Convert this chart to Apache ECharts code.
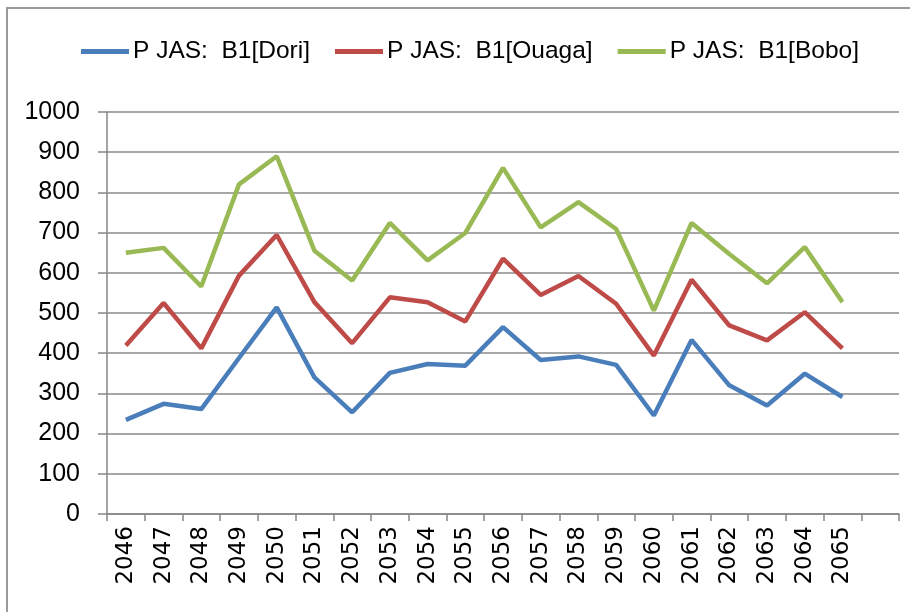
<!DOCTYPE html>
<html>
<head>
<meta charset="utf-8">
<script src="https://cdn.jsdelivr.net/npm/echarts@6/dist/echarts.min.js"></script>
<style>
  html, body { margin: 0; padding: 0; background: #fff; }
  #main { width: 910px; height: 612px; }
</style>
</head>
<body>
<div id="main"></div>
<script>
// annees (la derniere case de l'axe est vide, comme dans Excel)
var years = ['2046', '2047', '2048', '2049', '2050', '2051', '2052', '2053', '2054', '2055',
  '2056', '2057', '2058', '2059', '2060', '2061', '2062', '2063', '2064', '2065', ''];

var dori = [234, 274, 261, 388, 514, 340, 253, 351, 373, 369,
  465, 383, 392, 371, 245, 433, 320, 270, 349, 291];
var ouaga = [419, 525, 412, 593, 694, 527, 425, 539, 527, 479,
  635, 545, 592, 523, 394, 583, 469, 432, 502, 412];
var bobo = [650, 662, 566, 820, 890, 655, 581, 724, 631, 699,
  861, 713, 776, 709, 506, 724, 647, 574, 664, 527];

var seriesNames = ['P JAS:  B1[Dori]', 'P JAS:  B1[Ouaga]', 'P JAS:  B1[Bobo]'];
var colors = ['#4a7ebb', '#be4b48', '#98b954'];

var sans = "'Liberation Sans', Arial, sans-serif";

var chart = echarts.init(document.getElementById('main'));

function makeLine(name, data, color) {
  return {
    name: name,
    type: 'line',
    data: data,
    symbol: 'none',
    smooth: false,
    lineStyle: { color: color, width: 4.5 },
    itemStyle: { color: color },
    emphasis: { disabled: true }
  };
}

chart.setOption({
  backgroundColor: '#fff',
  animation: false,
  graphic: [{
    type: 'rect',
    shape: { x: 7, y: 8, width: 920, height: 620 },
    style: { fill: 'none', stroke: '#9a9a9a', lineWidth: 2 },
    silent: true
  }],
  legend: {
    left: 76,
    top: 34,
    icon: 'rect',
    itemWidth: 48,
    itemHeight: 5,
    itemGap: 25,
    textStyle: { fontFamily: sans, fontSize: 24.5, color: '#000', padding: [0, 0, 0, -1] },
    data: seriesNames
  },
  grid: {
    left: 107,
    right: 11,
    top: 112,
    bottom: 98,
    containLabel: false
  },
  xAxis: {
    type: 'category',
    data: years,
    boundaryGap: true,
    axisLine: { lineStyle: { color: '#868686', width: 1.5 } },
    axisTick: { show: true, length: 7, alignWithLabel: false, lineStyle: { color: '#868686', width: 1.5 } },
    axisLabel: {
      interval: 0,
      rotate: 90,
      margin: 12,
      fontFamily: 'DejaVu Sans',
      fontSize: 23,
      color: '#000'
    }
  },
  yAxis: {
    type: 'value',
    min: 0,
    max: 1000,
    interval: 100,
    axisLine: { show: true, lineStyle: { color: '#868686', width: 1.5 } },
    axisTick: { show: true, length: 9, lineStyle: { color: '#868686', width: 1.5 } },
    splitLine: { show: true, lineStyle: { color: '#8a8a8a', width: 1.5 } },
    axisLabel: {
      margin: 27,
      fontFamily: sans,
      fontSize: 25,
      color: '#000',
      formatter: function (v) { return String(v); }
    }
  },
  series: [
    makeLine(seriesNames[0], dori, colors[0]),
    makeLine(seriesNames[1], ouaga, colors[1]),
    makeLine(seriesNames[2], bobo, colors[2])
  ]
});
</script>
</body>
</html>
